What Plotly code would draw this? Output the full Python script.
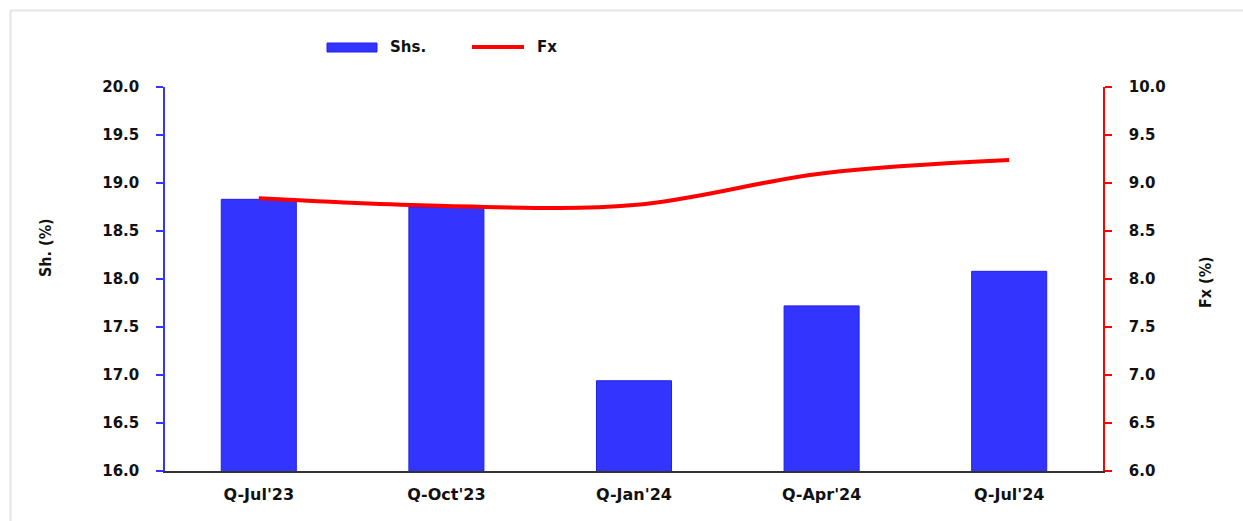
import plotly.graph_objects as go

# Quarterly data
quarters = ["Q-Jul'23", "Q-Oct'23", "Q-Jan'24", "Q-Apr'24", "Q-Jul'24"]
shs_values = [18.83, 18.75, 16.94, 17.72, 18.08]
fx_values = [8.84, 8.76, 8.77, 9.10, 9.24]

W, H = 1243, 521
L, R, T, B = 165, 1103, 87, 471  # plot area in pixels


def px(x):
    return (x - L) / (R - L)


def py(y):
    return (B - y) / (B - T)


BLUE = "#3434ff"
RED = "#ff0000"
TICK_FONT = dict(family="DejaVu Sans", size=15, color="#111111", weight="bold")
TITLE_FONT = dict(family="DejaVu Sans Condensed, Liberation Sans Narrow, Roboto", size=16,
                  color="#111111", weight="bold")

fig = go.Figure()
fig.add_trace(go.Bar(
    x=quarters, y=shs_values, name="Shs.",
    marker=dict(color=BLUE, line=dict(color="#2020e8", width=1)),
    width=0.4, yaxis="y", showlegend=False,
))
fig.add_trace(go.Scatter(
    x=quarters, y=fx_values, name="Fx", mode="lines",
    line=dict(color=RED, width=4, shape="spline", smoothing=1.0),
    yaxis="y2", showlegend=False,
))

fig.update_layout(
    width=W, height=H,
    margin=dict(l=L, r=W - R, t=T, b=H - B, pad=0),
    paper_bgcolor="white", plot_bgcolor="white",
    xaxis=dict(
        type="category", range=[-0.5, 4.5],
        showline=True, linecolor="#333333", linewidth=1.5,
        ticks="", showgrid=False, zeroline=False,
        tickfont=dict(family="DejaVu Sans", size=16, color="#111111", weight="bold"),
        ticklabelstandoff=8,
    ),
    yaxis=dict(
        range=[16, 20], dtick=0.5, tickformat=".1f",
        showline=True, linecolor=BLUE, linewidth=1.5,
        ticks="outside", ticklen=7, tickcolor=BLUE, tickwidth=1.5,
        showgrid=False, zeroline=False,
        tickfont=TICK_FONT, ticklabelstandoff=14,
    ),
    yaxis2=dict(
        range=[6, 10], dtick=0.5, tickformat=".1f",
        overlaying="y", side="right",
        showline=True, linecolor=RED, linewidth=1.5,
        ticks="outside", ticklen=7, tickcolor=RED, tickwidth=1.5,
        showgrid=False, zeroline=False,
        tickfont=TICK_FONT, ticklabelstandoff=14,
    ),
    showlegend=False,
)

# Axis titles
fig.add_annotation(x=px(45), y=py(248), xref="paper", yref="paper",
                   xanchor="center", yanchor="middle",
                   text="Sh. (%)", textangle=-90, showarrow=False, font=TITLE_FONT)
fig.add_annotation(x=px(1205), y=py(282), xref="paper", yref="paper",
                   xanchor="center", yanchor="middle",
                   text="Fx (%)", textangle=-90, showarrow=False, font=TITLE_FONT)

# Legend
LEGEND_FONT = dict(family="DejaVu Sans", size=15, color="#111111", weight="bold")
fig.add_shape(type="rect", xref="paper", yref="paper",
              x0=px(327), x1=px(377), y0=py(52), y1=py(43),
              fillcolor=BLUE, line=dict(color="#2020e8", width=1))
fig.add_annotation(x=px(388), y=py(47), xref="paper", yref="paper",
                   text="Shs.", showarrow=False, xanchor="left", yanchor="middle",
                   font=LEGEND_FONT)
fig.add_shape(type="line", xref="paper", yref="paper",
              x0=px(472), x1=px(524), y0=py(47), y1=py(47),
              line=dict(color=RED, width=4))
fig.add_annotation(x=px(535), y=py(47), xref="paper", yref="paper",
                   text="Fx", showarrow=False, xanchor="left", yanchor="middle",
                   font=LEGEND_FONT)

# Light frame along the top and left edges
fig.add_shape(type="line", xref="paper", yref="paper",
              x0=px(10), x1=px(W), y0=py(10.5), y1=py(10.5),
              line=dict(color="#e4e4e4", width=2))
fig.add_shape(type="line", xref="paper", yref="paper",
              x0=px(10.5), x1=px(10.5), y0=py(10), y1=py(H),
              line=dict(color="#e4e4e4", width=2))

fig.write_html("out.html")
